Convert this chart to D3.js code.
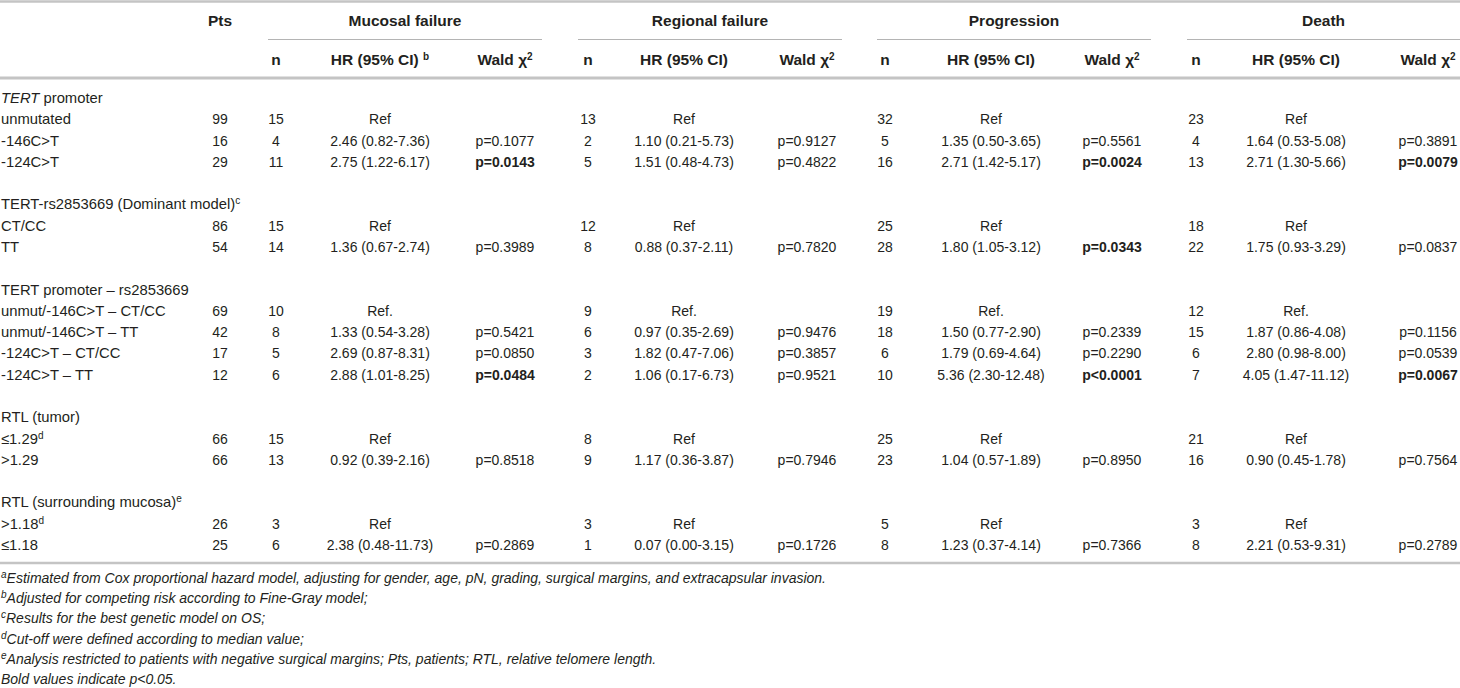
<!DOCTYPE html>
<html>
<head>
<meta charset="utf-8">
<script src="https://cdn.jsdelivr.net/npm/d3@7"></script>
<style>
  body { margin: 0; background: #fff; }
  svg { display: block; font-family: "Liberation Sans", Arial, Helvetica, sans-serif; }
</style>
</head>
<body>
<svg id="chart"></svg>
<script>
// table content
const outcomes = ["Mucosal failure", "Regional failure", "Progression", "Death"]
const subHeads = ["n", "HR (95% CI)", "Wald χ"]

const rowLabels = [
  "TERT promoter", "unmutated", "-146C>T", "-124C>T", "",
  "TERT-rs2853669 (Dominant model)", "CT/CC", "TT", "",
  "TERT promoter – rs2853669", "unmut/-146C>T – CT/CC", "unmut/-146C>T – TT", "-124C>T – CT/CC", "-124C>T – TT", "",
  "RTL (tumor)", "≤1.29", ">1.29", "",
  "RTL (surrounding mucosa)", ">1.18", "≤1.18"
]
const rowSup = { 5: "c", 16: "d", 19: "e", 20: "d" }

const pts = [null, 99, 16, 29, null, null, 86, 54, null, null, 69, 42, 17, 12, null, null, 66, 66, null, null, 26, 25]

const mucosalN = [null, 15, 4, 11, null, null, 15, 14, null, null, 10, 8, 5, 6, null, null, 15, 13, null, null, 3, 6]
const mucosalHR = ["", "Ref", "2.46 (0.82-7.36)", "2.75 (1.22-6.17)", "", "", "Ref", "1.36 (0.67-2.74)", "", "",
  "Ref.", "1.33 (0.54-3.28)", "2.69 (0.87-8.31)", "2.88 (1.01-8.25)", "", "", "Ref", "0.92 (0.39-2.16)", "", "", "Ref", "2.38 (0.48-11.73)"]
const mucosalP = ["", "", "p=0.1077", "p=0.0143", "", "", "", "p=0.3989", "", "",
  "", "p=0.5421", "p=0.0850", "p=0.0484", "", "", "", "p=0.8518", "", "", "", "p=0.2869"]

const regionalN = [null, 13, 2, 5, null, null, 12, 8, null, null, 9, 6, 3, 2, null, null, 8, 9, null, null, 3, 1]
const regionalHR = ["", "Ref", "1.10 (0.21-5.73)", "1.51 (0.48-4.73)", "", "", "Ref", "0.88 (0.37-2.11)", "", "",
  "Ref.", "0.97 (0.35-2.69)", "1.82 (0.47-7.06)", "1.06 (0.17-6.73)", "", "", "Ref", "1.17 (0.36-3.87)", "", "", "Ref", "0.07 (0.00-3.15)"]
const regionalP = ["", "", "p=0.9127", "p=0.4822", "", "", "", "p=0.7820", "", "",
  "", "p=0.9476", "p=0.3857", "p=0.9521", "", "", "", "p=0.7946", "", "", "", "p=0.1726"]

const progressionN = [null, 32, 5, 16, null, null, 25, 28, null, null, 19, 18, 6, 10, null, null, 25, 23, null, null, 5, 8]
const progressionHR = ["", "Ref", "1.35 (0.50-3.65)", "2.71 (1.42-5.17)", "", "", "Ref", "1.80 (1.05-3.12)", "", "",
  "Ref.", "1.50 (0.77-2.90)", "1.79 (0.69-4.64)", "5.36 (2.30-12.48)", "", "", "Ref", "1.04 (0.57-1.89)", "", "", "Ref", "1.23 (0.37-4.14)"]
const progressionP = ["", "", "p=0.5561", "p=0.0024", "", "", "", "p=0.0343", "", "",
  "", "p=0.2339", "p=0.2290", "p<0.0001", "", "", "", "p=0.8950", "", "", "", "p=0.7366"]

const deathN = [null, 23, 4, 13, null, null, 18, 22, null, null, 12, 15, 6, 7, null, null, 21, 16, null, null, 3, 8]
const deathHR = ["", "Ref", "1.64 (0.53-5.08)", "2.71 (1.30-5.66)", "", "", "Ref", "1.75 (0.93-3.29)", "", "",
  "Ref.", "1.87 (0.86-4.08)", "2.80 (0.98-8.00)", "4.05 (1.47-11.12)", "", "", "Ref", "0.90 (0.45-1.78)", "", "", "Ref", "2.21 (0.53-9.31)"]
const deathP = ["", "", "p=0.3891", "p=0.0079", "", "", "", "p=0.0837", "", "",
  "", "p=0.1156", "p=0.0539", "p=0.0067", "", "", "", "p=0.7564", "", "", "", "p=0.2789"]

const footMarks = ["a", "b", "c", "d", "e", ""]
const footTexts = [
  "Estimated from Cox proportional hazard model, adjusting for gender, age, pN, grading, surgical margins, and extracapsular invasion.",
  "Adjusted for competing risk according to Fine-Gray model;",
  "Results for the best genetic model on OS;",
  "Cut-off were defined according to median value;",
  "Analysis restricted to patients with negative surgical margins; Pts, patients; RTL, relative telomere length.",
  "Bold values indicate p<0.05."
]

const W = 1460, H = 688
const ink = "#231f20"
const ruleCol = "#c4c4c4"

const svg = d3.select("#chart").attr("width", W).attr("height", H)

const colKeys = ["pts", "n0", "hr0", "p0", "n1", "hr1", "p1", "n2", "hr2", "p2", "n3", "hr3", "p3"]
const x = d3.scaleOrdinal()
  .domain(colKeys)
  .range([220, 276, 380, 505, 588, 684, 807, 885, 991, 1112, 1196, 1296, 1428])
// span of each outcome group (under-rule)
const groupSpan = d3.scaleOrdinal().domain(outcomes)
  .range([[268, 542], [578, 842], [877, 1151], [1187, 1460]])

const y = d3.scaleLinear().domain([0, rowLabels.length - 1]).range([98, 545])
const yFoot = d3.scaleLinear().domain([0, footTexts.length - 1]).range([578, 679])

const fs = 14       // numbers
const fsLabel = 14.8
const fsHead = 15.5

// text helper: parts = [{t, sup, it}]
function addText(g, px, py, parts, anchor, opts = {}) {
  const t = g.append("text")
    .attr("x", px).attr("y", py)
    .attr("text-anchor", anchor || "middle")
    .attr("fill", ink)
    .style("font-size", (opts.size || fs) + "px")
    .style("font-weight", opts.bold ? "bold" : "normal")
    .style("font-style", opts.italic ? "italic" : "normal")
  let up = false
  parts.forEach(p => {
    const s = t.append("tspan").text(p.t)
    if (p.sup) {
      s.attr("dy", up ? 0 : -5).style("font-size", "10px").style("font-weight", opts.supBold ? "bold" : "normal")
      up = true
    } else if (up) {
      s.attr("dy", 5); up = false
    }
    if (p.it) s.style("font-style", "italic")
  })
  return t
}

// rules
svg.append("line").attr("x1", 0).attr("x2", W).attr("y1", 1.5).attr("y2", 1.5)
  .attr("stroke", ruleCol).attr("stroke-width", 2.5)
svg.append("line").attr("x1", 0).attr("x2", W).attr("y1", 78).attr("y2", 78)
  .attr("stroke", ruleCol).attr("stroke-width", 3)
svg.append("line").attr("x1", 0).attr("x2", W).attr("y1", 563).attr("y2", 563)
  .attr("stroke", ruleCol).attr("stroke-width", 2.5)

// header
const head = svg.append("g")
addText(head, x("pts"), 26, [{ t: "Pts" }], "middle", { bold: true, size: fsHead })
outcomes.forEach((o, k) => {
  const [a, b] = groupSpan(o)
  addText(head, (a + b) / 2, 26, [{ t: o }], "middle", { bold: true, size: fsHead })
  head.append("line").attr("x1", a).attr("x2", b).attr("y1", 39.5).attr("y2", 39.5)
    .attr("stroke", "#b4b4b4").attr("stroke-width", 1.2)
  addText(head, x("n" + k), 65, [{ t: subHeads[0] }], "middle", { bold: true, size: fsHead })
  const hrParts = k === 0 ? [{ t: subHeads[1] + " " }, { t: "b", sup: true }] : [{ t: subHeads[1] }]
  addText(head, x("hr" + k), 65, hrParts, "middle", { bold: true, size: fsHead, supBold: true })
  addText(head, x("p" + k), 65, [{ t: subHeads[2] }, { t: "2", sup: true }], "middle", { bold: true, size: fsHead, supBold: true })
})

// body
const body = svg.append("g")
rowLabels.forEach((lab, i) => {
  if (!lab) return
  let parts
  if (i === 0) parts = [{ t: "TERT", it: true }, { t: " promoter" }]
  else parts = [{ t: lab }]
  if (rowSup[i]) parts.push({ t: rowSup[i], sup: true })
  addText(body, 1, y(i) + 5, parts, "start", { size: fsLabel })
})

const nCols = [mucosalN, regionalN, progressionN, deathN]
const hrCols = [mucosalHR, regionalHR, progressionHR, deathHR]
const pCols = [mucosalP, regionalP, progressionP, deathP]

function isSig(s) {
  const v = parseFloat(s.replace(/^p[=<]/, ""))
  return !isNaN(v) && v < 0.05
}

pts.forEach((v, i) => {
  if (v == null) return
  addText(body, x("pts"), y(i) + 5, [{ t: String(v) }])
})
nCols.forEach((col, k) => {
  col.forEach((v, i) => {
    if (v == null) return
    addText(body, x("n" + k), y(i) + 5, [{ t: String(v) }])
  })
  hrCols[k].forEach((v, i) => {
    if (!v) return
    addText(body, x("hr" + k), y(i) + 5, [{ t: v }])
  })
  pCols[k].forEach((v, i) => {
    if (!v) return
    addText(body, x("p" + k), y(i) + 5, [{ t: v }], "middle", { bold: isSig(v) })
  })
})

// footnotes
const foot = svg.append("g")
footTexts.forEach((t, j) => {
  const parts = footMarks[j] ? [{ t: footMarks[j], sup: true }, { t: t }] : [{ t: t }]
  addText(foot, 1, yFoot(j) + 5, parts, "start", { italic: true, size: 14 })
})
</script>
</body>
</html>
